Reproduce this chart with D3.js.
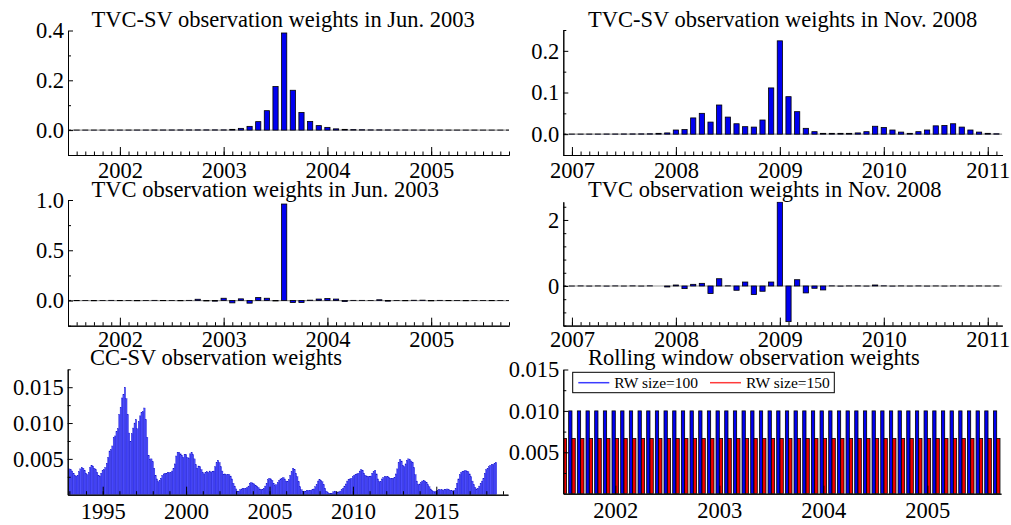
<!DOCTYPE html>
<html>
<head>
<meta charset="utf-8">
<script src="https://cdn.jsdelivr.net/npm/d3@7"></script>
<style>
  html, body { margin: 0; padding: 0; background: #fff; }
  svg { display: block; }
</style>
</head>
<body>
<svg id="chart" width="1011" height="525"></svg>
<script>
// ---- Observation weights, monthly ----

// TVC-SV weights for Jun. 2003, first month Jul. 2001
const tvcsvJunStart = [2001, 7];
const tvcsvJun = [
  0.0002, 0.0002, 0.0003, 0.0003, 0.0003, 0.0004, 0.0004, 0.0004, 0.0005, 0.0005, 0.0006, 0.0006,
  0.0007, 0.0008, 0.0009, 0.001, 0.001, 0.001,
  0.001, 0.003, 0.007, 0.015, 0.034, 0.078, 0.175, 0.39, 0.16, 0.071, 0.035, 0.018,
  0.011, 0.005, 0.003, 0.002, 0.0015, 0.001, 0.001, 0.0008, 0.0007, 0.0006, 0.0005, 0.0005,
  0.0004, 0.0004, 0.0003, 0.0003, 0.0003, 0.0003, 0.0002, 0.0002, 0.0002, 0.0002
];

// TVC weights for Jun. 2003, first month Jul. 2001
const tvcJunStart = [2001, 7];
const tvcJun = [
  0.002, -0.001, 0.001, -0.002, 0.001, 0.002, -0.001, 0.001, -0.002, 0.001, 0.002, -0.001,
  0.001, -0.002, 0.002, 0.013, -0.004, -0.006,
  0.023, -0.023, 0.017, -0.026, 0.030, 0.023, -0.004, 0.96, -0.020, -0.020, 0.004, 0.015,
  0.020, 0.015, -0.010, 0.002, 0.002, 0.001, 0.008, -0.006, 0.001, -0.002, 0.003, 0.004,
  -0.003, 0.002, -0.001, 0.001, -0.002, 0.001, 0.001, -0.001, 0.001, 0.001
];

// TVC-SV weights for Nov. 2008, first month Dec. 2006
const tvcsvNovStart = [2006, 12];
const tvcsvNov = [
  0.0003, 0.0003, 0.0003, 0.0004, 0.0004, 0.0005, 0.0005, 0.0006, 0.0007, 0.0008, 0.001, 0.002,
  0.003, 0.010, 0.011, 0.039, 0.050, 0.029, 0.070, 0.041, 0.025, 0.018, 0.017, 0.034,
  0.111, 0.224, 0.090, 0.054, 0.014, 0.006, 0.002, 0.002, 0.002, 0.002, 0.003, 0.006,
  0.019, 0.016, 0.010, 0.005, 0.002, 0.006, 0.010, 0.020, 0.021, 0.025, 0.017, 0.010,
  0.005, 0.002, 0.001
];

// TVC weights for Nov. 2008, first month Dec. 2006
const tvcNovStart = [2006, 12];
const tvcNov = [
  0.002, -0.002, 0.003, -0.003, 0.002, -0.004, 0.003, -0.002, 0.004, -0.003, 0.005, 0.0,
  -0.03, 0.03, -0.08, 0.05, 0.08, -0.23, 0.22, 0.005, -0.13, 0.12, -0.26, -0.16,
  0.12, 2.54, -1.08, 0.19, -0.21, -0.07, -0.12, 0.004, -0.005, 0.003, 0.004, -0.003,
  0.03, 0.005, -0.004, 0.003, -0.002, 0.003, -0.003, 0.002, -0.002, 0.002, 0.003, -0.002,
  0.002, -0.001, 0.001
];

// CC-SV weights, Jan. 1993 onwards (one row per year)
const ccsvStart = [1993, 1];
const ccsv = [
  0.0036, 0.0035, 0.0033, 0.0030, 0.0027, 0.0026, 0.0027, 0.0032, 0.0036, 0.0038, 0.0037, 0.0034,
  0.0030, 0.0028, 0.0031, 0.0038, 0.0041, 0.0040, 0.0037, 0.0035, 0.0031, 0.0027, 0.0026, 0.0030,
  0.0034, 0.0035, 0.0038, 0.0044, 0.0052, 0.0061, 0.0063, 0.0068, 0.0080, 0.0082, 0.0088, 0.0092,
  0.0112, 0.0122, 0.0135, 0.0140, 0.0150, 0.0134, 0.0112, 0.0086, 0.0074, 0.0085, 0.0093, 0.0100,
  0.0105, 0.0092, 0.0102, 0.0110, 0.0115, 0.0116, 0.0121, 0.0105, 0.0080, 0.0055, 0.0049, 0.0050,
  0.0046, 0.0037, 0.0027, 0.0022, 0.0018, 0.0020, 0.0023, 0.0027, 0.0029, 0.0030, 0.0030, 0.0031,
  0.0031, 0.0031, 0.0033, 0.0037, 0.0043, 0.0054, 0.0059, 0.0059, 0.0057, 0.0055, 0.0052, 0.0056,
  0.0056, 0.0052, 0.0051, 0.0057, 0.0059, 0.0056, 0.0050, 0.0042, 0.0037, 0.0040, 0.0039, 0.0035,
  0.0031, 0.0029, 0.0031, 0.0032, 0.0031, 0.0033, 0.0031, 0.0032, 0.0033, 0.0039, 0.0045, 0.0048,
  0.0045, 0.0039, 0.0033, 0.0028, 0.0029, 0.0028, 0.0028, 0.0028, 0.0026, 0.0022, 0.0016, 0.0012,
  0.0008, 0.0005, 0.0005, 0.0007, 0.0008, 0.0009, 0.0009, 0.0009, 0.0010, 0.0012, 0.0016, 0.0017,
  0.0016, 0.0015, 0.0013, 0.0012, 0.0010, 0.0008, 0.0007, 0.0007, 0.0009, 0.0012, 0.0016, 0.0021,
  0.0023, 0.0022, 0.0020, 0.0016, 0.0013, 0.0014, 0.0017, 0.0020, 0.0022, 0.0023, 0.0024, 0.0022,
  0.0019, 0.0018, 0.0021, 0.0027, 0.0032, 0.0037, 0.0035, 0.0030, 0.0025, 0.0018, 0.0011, 0.0007,
  0.0005, 0.0005, 0.0005, 0.0006, 0.0006, 0.0006, 0.0006, 0.0007, 0.0008, 0.0011, 0.0014, 0.0019,
  0.0021, 0.0020, 0.0018, 0.0014, 0.0009, 0.0005, 0.0003, 0.0002, 0.0002, 0.0002, 0.0004, 0.0005,
  0.0004, 0.0003, 0.0004, 0.0005, 0.0007, 0.0009, 0.0012, 0.0015, 0.0019, 0.0021, 0.0022, 0.0023,
  0.0025, 0.0027, 0.0028, 0.0029, 0.0030, 0.0033, 0.0035, 0.0034, 0.0030, 0.0027, 0.0026, 0.0025,
  0.0025, 0.0026, 0.0030, 0.0032, 0.0034, 0.0029, 0.0022, 0.0018, 0.0018, 0.0022, 0.0024, 0.0025,
  0.0025, 0.0025, 0.0024, 0.0023, 0.0023, 0.0023, 0.0024, 0.0029, 0.0036, 0.0045, 0.0049, 0.0047,
  0.0041, 0.0039, 0.0043, 0.0048, 0.0050, 0.0049, 0.0047, 0.0045, 0.0038, 0.0028, 0.0019, 0.0014,
  0.0015, 0.0017, 0.0019, 0.0020, 0.0019, 0.0017, 0.0014, 0.0011, 0.0008, 0.0006, 0.0005, 0.0004,
  0.0005, 0.0006, 0.0007, 0.0007, 0.0007, 0.0006, 0.0007, 0.0007, 0.0008, 0.0007, 0.0006, 0.0006,
  0.0005, 0.0006, 0.0009, 0.0016, 0.0022, 0.0028, 0.0031, 0.0032, 0.0033, 0.0034, 0.0033, 0.0032,
  0.0029, 0.0025, 0.0019, 0.0014, 0.0010, 0.0008, 0.0009, 0.0012, 0.0016, 0.0019, 0.0023, 0.0030,
  0.0035, 0.0037, 0.0039, 0.0041, 0.0042, 0.0042, 0.0044, 0.0045
];

// Rolling window weights (1/100 and 1/150), Jul. 2001 to Sep. 2005
const rwStart = [2001, 7];
const rw100 = [
  0.01, 0.01, 0.01, 0.01, 0.01, 0.01, 0.01, 0.01, 0.01, 0.01, 0.01, 0.01,
  0.01, 0.01, 0.01, 0.01, 0.01, 0.01, 0.01, 0.01, 0.01, 0.01, 0.01, 0.01,
  0.01, 0.01, 0.01, 0.01, 0.01, 0.01, 0.01, 0.01, 0.01, 0.01, 0.01, 0.01,
  0.01, 0.01, 0.01, 0.01, 0.01, 0.01, 0.01, 0.01, 0.01, 0.01, 0.01, 0.01,
  0.01, 0.01, 0.01
];
const rw150 = [
  0.00667, 0.00667, 0.00667, 0.00667, 0.00667, 0.00667, 0.00667, 0.00667, 0.00667, 0.00667, 0.00667, 0.00667,
  0.00667, 0.00667, 0.00667, 0.00667, 0.00667, 0.00667, 0.00667, 0.00667, 0.00667, 0.00667, 0.00667, 0.00667,
  0.00667, 0.00667, 0.00667, 0.00667, 0.00667, 0.00667, 0.00667, 0.00667, 0.00667, 0.00667, 0.00667, 0.00667,
  0.00667, 0.00667, 0.00667, 0.00667, 0.00667, 0.00667, 0.00667, 0.00667, 0.00667, 0.00667, 0.00667, 0.00667,
  0.00667, 0.00667, 0.00667
];
const rwLabels = ["RW size=100", "RW size=150"];

// Axis tick labels
const yearTicks2002 = [2002, 2003, 2004, 2005];
const yearTicks2007 = [2007, 2008, 2009, 2010, 2011];
const yearTicksCC = [1995, 2000, 2005, 2010, 2015];
const yTicksTvcsvJun = [0.0, 0.2, 0.4];
const yTicksTvcJun = [0.0, 0.5, 1.0];
const yTicksTvcsvNov = [0.0, 0.1, 0.2];
const yTicksTvcNov = [0, 2];
const yTicksSmall = [0.005, 0.010, 0.015];

const titles = [
  "TVC-SV observation weights in Jun. 2003",
  "TVC-SV observation weights in Nov. 2008",
  "TVC observation weights in Jun. 2003",
  "TVC observation weights in Nov. 2008",
  "CC-SV observation weights",
  "Rolling window observation weights"
];

// ---- drawing ----
const FONT = '"Liberation Serif", "Times New Roman", serif';
const FS = 22.5;
const svg = d3.select('#chart');

// turn (start month, values) into decimal-year points
function monthly(start, values) {
  return values.map((v, i) => ({ t: start[0] + (start[1] - 1 + i) / 12, v }));
}

function styleAxis(sel, size) {
  sel.attr('font-family', FONT).attr('font-size', size);
  sel.selectAll('path.domain').attr('stroke', '#000').attr('stroke-width', 1);
  sel.selectAll('line').attr('stroke', '#000').attr('stroke-width', 1);
  sel.selectAll('text').attr('fill', '#000');
}

function panel(p) {
  const g = svg.append('g');
  const x = d3.scaleLinear().domain(p.xDomain).range(p.xRange);
  const y = d3.scaleLinear().domain(p.yDomain).range(p.yRange);
  const [x0, x1] = p.xRange;
  const [yb, yt] = p.yRange;

  g.append('clipPath').attr('id', 'clip-' + p.key)
    .append('rect').attr('x', x0).attr('y', yt).attr('width', x1 - x0).attr('height', yb - yt);
  const plot = g.append('g').attr('clip-path', `url(#clip-${p.key})`);

  if (p.zeroLine) {
    plot.append('line')
      .attr('x1', x0).attr('x2', x1).attr('y1', y(0)).attr('y2', y(0))
      .attr('stroke', '#9a9a9a').attr('stroke-width', 1.2);
  }

  p.draw(plot, x, y);

  // x axis: minor then labelled major ticks, pointing inward
  const xa = g.append('g').attr('transform', `translate(0,${yb})`);
  xa.append('g').call(d3.axisBottom(x).tickValues(p.xMinor).tickSize(-3.5).tickSizeOuter(0).tickFormat(''))
    .call(s => styleAxis(s, FS));
  xa.append('g').call(d3.axisBottom(x).tickValues(p.xMajor).tickSize(-8).tickSizeOuter(0)
      .tickPadding(p.xPad).tickFormat(d3.format('d')))
    .call(s => styleAxis(s, FS));

  // y axis
  const ya = g.append('g').attr('transform', `translate(${x0},0)`);
  ya.append('g').call(d3.axisLeft(y).tickValues(p.yMinor).tickSize(-3).tickSizeOuter(0).tickFormat(''))
    .call(s => styleAxis(s, FS));
  ya.append('g').call(d3.axisLeft(y).tickValues(p.yMajor).tickSize(-5).tickSizeOuter(0)
      .tickPadding(4).tickFormat(p.yFormat))
    .call(s => styleAxis(s, FS));

  g.append('text')
    .attr('x', p.titleX).attr('y', p.titleY)
    .attr('font-family', FONT).attr('font-size', FS).attr('fill', '#000')
    .text(p.title);
}

// outlined monthly bars (blue fill, black edge)
function outlinedBars(data, barW, fill) {
  return (plot, x, y) => {
    plot.append('g').selectAll('rect').data(data).join('rect')
      .attr('x', d => x(d.t) - barW / 2)
      .attr('y', d => y(Math.max(0, d.v)))
      .attr('width', barW)
      .attr('height', d => Math.abs(y(d.v) - y(0)))
      .attr('fill', fill)
      .attr('stroke', '#000')
      .attr('stroke-width', 0.8);
  };
}

const monthsBetween = (a, b) => d3.range(Math.ceil(a * 12), Math.floor(b * 12) + 1).map(m => m / 12);

// top-left
panel({
  key: 'tl', title: titles[0], titleX: 91.5, titleY: 26.5,
  xDomain: [2001.5, 2005.75], xRange: [68, 509],
  yDomain: [-0.1, 0.4], yRange: [155, 30.5],
  xMajor: yearTicks2002, xMinor: monthsBetween(2001.5, 2005.75), xPad: 7,
  yMajor: yTicksTvcsvJun, yMinor: [-0.1, 0.1, 0.3], yFormat: d3.format('.1f'),
  zeroLine: true,
  draw: outlinedBars(monthly(tvcsvJunStart, tvcsvJun), 5.2, '#0000f0')
});

// top-right
panel({
  key: 'tr', title: titles[1], titleX: 588, titleY: 26.5,
  xDomain: [2006.917, 2011.14], xRange: [563.3, 1002.3],
  yDomain: [-0.05, 0.25], yRange: [155, 30],
  xMajor: yearTicks2007, xMinor: monthsBetween(2006.92, 2011.14), xPad: 7,
  yMajor: yTicksTvcsvNov, yMinor: [-0.05, 0.05, 0.15, 0.25], yFormat: d3.format('.1f'),
  zeroLine: true,
  draw: outlinedBars(monthly(tvcsvNovStart, tvcsvNov), 5.2, '#0000f0')
});

// middle-left
panel({
  key: 'ml', title: titles[2], titleX: 91.5, titleY: 196.5,
  xDomain: [2001.5, 2005.75], xRange: [68, 509],
  yDomain: [-0.25, 1.0], yRange: [325.7, 200],
  xMajor: yearTicks2002, xMinor: monthsBetween(2001.5, 2005.75), xPad: 5.5,
  yMajor: yTicksTvcJun, yMinor: [-0.25, 0.25, 0.75], yFormat: d3.format('.1f'),
  zeroLine: true,
  draw: outlinedBars(monthly(tvcJunStart, tvcJun), 5.2, '#0000f0')
});

// middle-right
panel({
  key: 'mr', title: titles[3], titleX: 588, titleY: 196.5,
  xDomain: [2006.917, 2011.14], xRange: [563.3, 1002.3],
  yDomain: [-1.2, 2.55], yRange: [325.6, 201.8],
  xMajor: yearTicks2007, xMinor: monthsBetween(2006.92, 2011.14), xPad: 5.5,
  yMajor: yTicksTvcNov, yMinor: [-1.2, -0.8, -0.4, 0.4, 0.8, 1.2, 1.6, 2.4], yFormat: d3.format('d'),
  zeroLine: true,
  draw: outlinedBars(monthly(tvcNovStart, tvcNov), 5.2, '#0000f0')
});

// bottom-left: dense monthly bars
panel({
  key: 'bl', title: titles[4], titleX: 90, titleY: 365,
  xDomain: [1992.9, 2019.3], xRange: [67.7, 508],
  yDomain: [0, 0.0175], yRange: [494.7, 369.3],
  xMajor: yearTicksCC, xMinor: d3.range(1993, 2020), xPad: 8,
  yMajor: yTicksSmall, yMinor: [0.0025, 0.0075, 0.0125, 0.0175], yFormat: d3.format('.3f'),
  zeroLine: false,
  draw: (plot, x, y) => {
    const data = monthly(ccsvStart, ccsv);
    const w = x(1 / 12) - x(0);
    plot.append('g').selectAll('rect').data(data).join('rect')
      .attr('x', d => x(d.t) - w / 2)
      .attr('y', d => y(d.v))
      .attr('width', w)
      .attr('height', d => y(0) - y(d.v))
      .attr('fill', '#4c4cff')
      .attr('stroke', '#1414cc')
      .attr('stroke-width', 0.35);
  }
});

// bottom-right: paired rolling-window bars with legend
panel({
  key: 'br', title: titles[5], titleX: 588, titleY: 365,
  xDomain: [2001.5, 2005.708], xRange: [563.3, 1001],
  yDomain: [0, 0.015], yRange: [493.7, 369.5],
  xMajor: yearTicks2002, xMinor: [], xPad: 8,
  yMajor: yTicksSmall, yMinor: [0.0025, 0.0075, 0.0125], yFormat: d3.format('.3f'),
  zeroLine: false,
  draw: (plot, x, y) => {
    const bw = 3.3;
    const series = [
      { data: monthly(rwStart, rw100), fill: '#0000f0', off: -bw },
      { data: monthly(rwStart, rw150), fill: '#f00000', off: 0 }
    ];
    series.forEach(s => {
      plot.append('g').selectAll('rect').data(s.data).join('rect')
        .attr('x', d => x(d.t) + s.off)
        .attr('y', d => y(d.v))
        .attr('width', bw)
        .attr('height', d => y(0) - y(d.v))
        .attr('fill', s.fill)
        .attr('stroke', '#000')
        .attr('stroke-width', 0.8);
    });
  }
});

// legend for the rolling-window panel
const lg = svg.append('g');
lg.append('rect').attr('x', 572.7).attr('y', 372.3).attr('width', 261.6).attr('height', 20.4)
  .attr('fill', '#fff').attr('stroke', '#000').attr('stroke-width', 1);
[
  { x: 578.3, color: '#3b3bff', label: rwLabels[0] },
  { x: 710, color: '#ff3b3b', label: rwLabels[1] }
].forEach(item => {
  lg.append('line').attr('x1', item.x).attr('x2', item.x + 31).attr('y1', 382.7).attr('y2', 382.7)
    .attr('stroke', item.color).attr('stroke-width', 1.5);
  lg.append('text').attr('x', item.x + 36).attr('y', 388)
    .attr('font-family', FONT).attr('font-size', 15.5).attr('fill', '#000')
    .text(item.label);
});
</script>
</body>
</html>
